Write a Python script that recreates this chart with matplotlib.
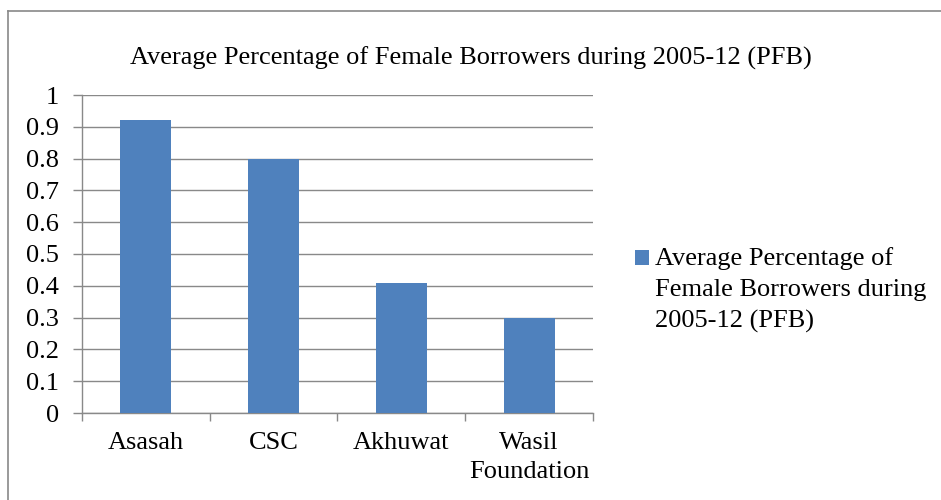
import matplotlib.pyplot as plt
from matplotlib.patches import Rectangle
from matplotlib.legend_handler import HandlerPatch
from matplotlib.lines import Line2D

categories = ["Asasah", "CSC", "Akhuwat", "Wasil\nFoundation"]
pfb = [0.92, 0.80, 0.41, 0.30]
series_name = "Average Percentage of\nFemale Borrowers during\n2005-12 (PFB)"
title = "Average Percentage of Female Borrowers during 2005-12 (PFB)"

plt.rcParams['font.family'] = ['Liberation Serif', 'DejaVu Serif']
grey = "#898989"
fs = 19

fig = plt.figure(figsize=(9.41, 5), dpi=100)
ax = fig.add_axes([0.0871, 0.174, 0.543, 0.636])

x = list(range(len(categories)))
bars = ax.bar(x, pfb, width=0.4, color="#4F81BD", zorder=3)

ax.set_ylim(0, 1)
ax.set_xlim(-0.5, len(categories) - 0.5)
ax.set_yticks([i / 10 for i in range(11)])
ax.set_yticklabels(["0"] + ["%.1f" % (i / 10) for i in range(1, 10)] + ["1"], fontsize=fs)
ax.grid(axis='y', color=grey, linewidth=1.0, zorder=0)

# category labels centred, tick marks on the boundaries
ax.set_xticks(x)
ax.set_xticklabels(categories, fontsize=fs, linespacing=1.4)
ax.tick_params(axis='x', length=0, pad=14)
ax.set_xticks([i - 0.5 for i in range(len(categories) + 1)], minor=True)
ax.tick_params(axis='x', which='minor', length=6, width=1.0, color=grey)
ax.tick_params(axis='y', length=6.5, width=1.0, color=grey, pad=10)

for s in ['top', 'right']:
    ax.spines[s].set_visible(False)
for s in ['left', 'bottom']:
    ax.spines[s].set_color(grey)
    ax.spines[s].set_linewidth(1.0)

fig.text(0.5, 0.87, title, ha='center', va='baseline', fontsize=fs)


# legend square sits beside the first line of the label
def top_square(legend, orig_handle, xdescent, ydescent, width, height, fontsize):
    return Rectangle((-xdescent, -ydescent + 22.7), width, height)


leg = ax.legend([bars.patches[0]], [series_name], loc='center left',
                bbox_to_anchor=(1.082, 0.387),
                frameon=False, fontsize=fs, handlelength=0.53, handleheight=0.53,
                handletextpad=0.25, borderaxespad=0, borderpad=0,
                handler_map={Rectangle: HandlerPatch(patch_func=top_square)})
for t in leg.get_texts():
    t.set_linespacing(1.5)

# outer frame (only left and top edges fall inside the picture)
fig.add_artist(Line2D([0.0085, 0.0085], [0, 0.978], transform=fig.transFigure,
                      color=grey, linewidth=1.2))
fig.add_artist(Line2D([0.0085, 1], [0.978, 0.978], transform=fig.transFigure,
                      color=grey, linewidth=1.2))

fig.savefig("out.png", dpi=100)
